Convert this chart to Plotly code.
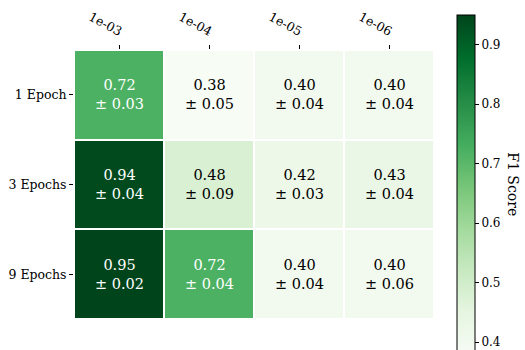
import plotly.graph_objects as go

# F1 scores (mean and std) for each learning rate / epoch combination
learning_rates = ["1e-03", "1e-04", "1e-05", "1e-06"]
epochs = ["1 Epoch", "3 Epochs", "9 Epochs"]
f1_mean = [
    [0.72, 0.38, 0.40, 0.40],
    [0.94, 0.48, 0.42, 0.43],
    [0.95, 0.72, 0.40, 0.40],
]
f1_std = [
    [0.03, 0.05, 0.04, 0.04],
    [0.04, 0.09, 0.03, 0.04],
    [0.02, 0.04, 0.04, 0.06],
]

greens = ["#f7fcf5", "#e5f5e0", "#c7e9c0", "#a1d99b", "#74c476",
          "#41ab5d", "#238b45", "#006d2c", "#00441b"]
colorscale = [[i / (len(greens) - 1), c] for i, c in enumerate(greens)]

zmin = min(min(r) for r in f1_mean)
zmax = max(max(r) for r in f1_mean)
serif = "DejaVu Serif"

fig = go.Figure(go.Heatmap(
    z=f1_mean,
    x=learning_rates,
    y=epochs,
    zmin=zmin,
    zmax=zmax,
    colorscale=colorscale,
    xgap=2,
    ygap=2,
    hoverinfo="skip",
    colorbar=dict(
        x=1.064, xanchor="left", xpad=0,
        y=0.5, yanchor="middle", ypad=0,
        lenmode="pixels", len=339,
        thickness=18,
        outlinewidth=1, outlinecolor="black",
        ticks="outside", ticklen=4, tickwidth=1, tickcolor="black",
        tickvals=[0.4, 0.5, 0.6, 0.7, 0.8, 0.9],
        ticktext=["0.4", "0.5", "0.6", "0.7", "0.8", "0.9"],
        tickfont=dict(family=serif, size=12, color="black"),
    ),
))

# value labels inside each cell (category index positions)
threshold = (zmin + zmax) / 2
for i in range(len(epochs)):
    for j in range(len(learning_rates)):
        m = f1_mean[i][j]
        s = f1_std[i][j]
        fig.add_annotation(
            x=j, y=i, xref="x", yref="y",
            text=f"{m:.2f}<br>± {s:.2f}",
            showarrow=False,
            font=dict(family=serif, size=14.5,
                      color="white" if m > threshold else "black"),
        )

fig.add_annotation(
    x=1.22, y=0.5, xref="paper", yref="paper",
    xanchor="center", yanchor="middle",
    text="F1 Score", textangle=90, showarrow=False,
    font=dict(family=serif, size=14, color="black"),
)

fig.update_xaxes(
    type="category", side="top", tickangle=28,
    ticks="outside", ticklen=4, tickcolor="black",
    ticklabelstandoff=3, ticklabelshift=3,
    tickfont=dict(family=serif, size=12.5, color="black"),
    showgrid=False, zeroline=False,
)
fig.update_yaxes(
    type="category", autorange="reversed",
    ticks="outside", ticklen=4, tickcolor="black",
    tickfont=dict(family=serif, size=12.5, color="black"),
    showgrid=False, zeroline=False,
)
fig.update_layout(
    width=525, height=350,
    margin=dict(l=74, r=91, t=50, b=31, autoexpand=False),
    paper_bgcolor="white",
    plot_bgcolor="white",
)

fig.write_html("out.html")
